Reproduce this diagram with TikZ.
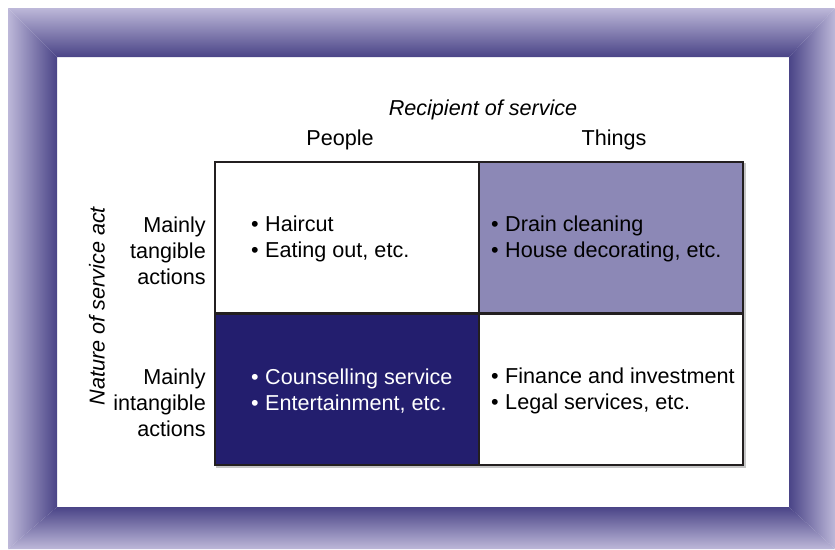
\documentclass[tikz,border=0pt]{standalone}
\usepackage{fontspec}
\setmainfont{Liberation Sans}

\definecolor{framedark}{HTML}{4A4487}
\definecolor{framelight}{HTML}{BDB8D9}
\definecolor{cellpurple}{HTML}{8C88B6}
\definecolor{cellnavy}{HTML}{231E6E}
\definecolor{gridline}{HTML}{231F20}

\newcommand{\bul}{•\hspace{0.3em}}

\tikzset{
  cell/.style={draw=gridline, line width=2.5pt, minimum width=264pt, minimum height=151.5pt, inner sep=0pt},
  item/.style={anchor=west, align=left, inner sep=0pt},
  rowlabel/.style={anchor=east, align=right, inner sep=0pt}
}

\begin{document}
\begin{tikzpicture}[x=1pt, y=-1pt, font=\fontsize{21.6}{26}\selectfont]
  \useasboundingbox (0,0) rectangle (835,549);

  % frame
  \shade[top color=framelight, bottom color=framedark] (8,8) -- (835,8) -- (789,57) -- (57,57) -- cycle;
  \shade[left color=framelight, right color=framedark] (8,8) -- (57,57) -- (57,507) -- (8,549) -- cycle;
  \shade[top color=framedark, bottom color=framelight] (8,549) -- (57,507) -- (789,507) -- (835,549) -- cycle;
  \shade[left color=framedark, right color=framelight] (835,8) -- (789,57) -- (789,507) -- (835,549) -- cycle;

  % shadow of the grid
  \draw[gray!45, line width=2.5pt] (217,164) rectangle (745,467);

  % the four cells
  \node[cell, fill=white] (TL) at (347,237.5) {};
  \node[cell, fill=cellpurple] (TR) at (611,237.5) {};
  \node[cell, fill=cellnavy] (BL) at (347,389) {};
  \node[cell, fill=white] (BR) at (611,389) {};

  \node[item] (TLtext) at (251,238.5) {\bul Haircut\\\bul Eating out, etc.};
  \node[item] (TRtext) at (491,238.5) {\bul Drain cleaning\\\bul House decorating, etc.};
  \node[item, text=white] (BLtext) at (251,391) {\bul Counselling service\\\bul Entertainment, etc.};
  \node[item] (BRtext) at (491,391) {\bul Finance and investment\\\bul Legal services, etc.};

  % headings
  \node (recipient) at (483,110) {\itshape Recipient of service};
  \node (people) at (340,140) {People};
  \node (things) at (614,140) {Things};

  \node[rowlabel] (tangible) at (206,251) {Mainly\\tangible\\actions};
  \node[rowlabel] (intangible) at (206,403) {Mainly\\intangible\\actions};

  \node[rotate=90] (nature) at (97,306) {\itshape Nature of service act};
\end{tikzpicture}
\end{document}
